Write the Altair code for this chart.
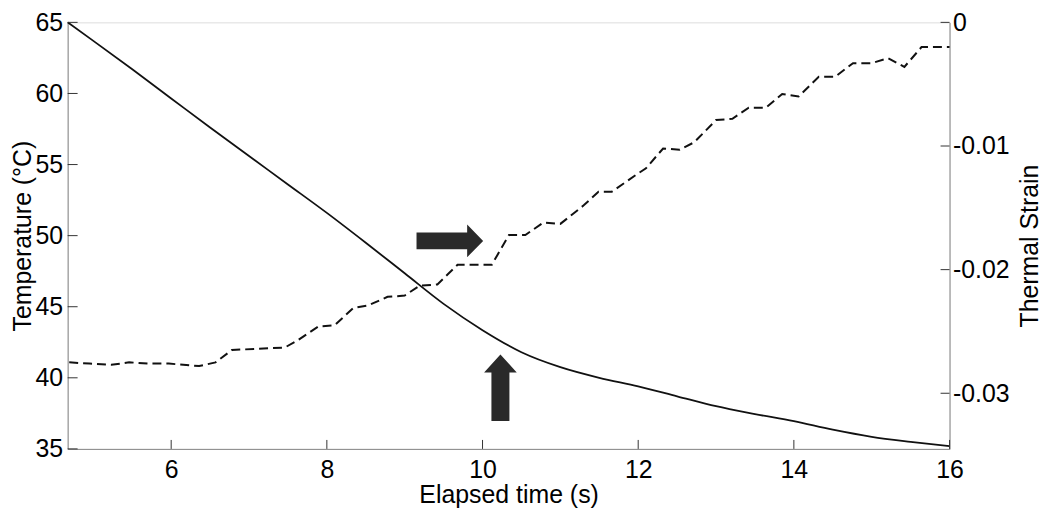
import altair as alt
import pandas as pd

# ---- data ----
time_temp = [4.67, 5.0, 5.5, 6.0, 6.5, 7.0, 7.5, 8.0, 8.5, 9.0, 9.5, 10.0,
             10.5, 11.0, 11.5, 12.0, 12.5, 13.0, 13.5, 14.0, 14.5, 15.0, 15.5, 16.0]
temperature = [65.0, 63.7, 61.7, 59.65, 57.6, 55.6, 53.6, 51.6, 49.5, 47.35, 45.2, 43.35,
               41.8, 40.75, 40.0, 39.4, 38.7, 38.0, 37.45, 36.95, 36.35, 35.85, 35.5, 35.2]

time_strain = [4.69, 4.95, 5.23, 5.46, 5.72, 5.97, 6.36, 6.57, 6.78, 7.12,
               7.46, 7.63, 7.89, 8.10, 8.34, 8.53, 8.78, 9.00, 9.19, 9.42,
               9.68, 10.12, 10.34, 10.55, 10.78, 11.00, 11.30, 11.49, 11.66, 11.98,
               12.10, 12.32, 12.53, 12.72, 13.00, 13.21, 13.42, 13.64, 13.85, 14.06,
               14.32, 14.53, 14.76, 15.00, 15.21, 15.42, 15.64, 16.0]
thermal_strain = [-0.0275, -0.0276, -0.0277, -0.0275, -0.0276, -0.0276, -0.0278, -0.0275, -0.0265, -0.0264,
                  -0.0263, -0.0257, -0.0246, -0.0245, -0.0231, -0.0229, -0.0222, -0.0221, -0.0213, -0.0212,
                  -0.0196, -0.0196, -0.0172, -0.0172, -0.0162, -0.0163, -0.0148, -0.0137, -0.0137, -0.0123,
                  -0.0118, -0.0102, -0.0103, -0.0097, -0.0079, -0.0078, -0.0069, -0.0069, -0.0058, -0.0060,
                  -0.0044, -0.0044, -0.0033, -0.0033, -0.0029, -0.0036, -0.0020, -0.0020]

x_ticks = [6, 8, 10, 12, 14, 16]
temp_ticks = [35, 40, 45, 50, 55, 60, 65]
strain_ticks = [0, -0.01, -0.02, -0.03]

arrow_right_t = [9.58]
arrow_right_temp = [49.63]
arrow_up_t = [10.23]
arrow_up_temp = [39.3]

x_domain = [4.67, 16]
temp_domain = [35, 65]
strain_domain = [-0.0345, 0]

# ---- styling ----
W, H = 887, 429
FONT = "Liberation Sans"
FS = 25
AXIS_COLOR = "#333333"
INK = "#111111"

df_temp = pd.DataFrame({"t": time_temp, "v": temperature})
df_strain = pd.DataFrame({"t": time_strain, "v": thermal_strain})
df_xt = pd.DataFrame({"t": x_ticks})
df_lt = pd.DataFrame({"v": temp_ticks})
df_rt = pd.DataFrame({"v": strain_ticks})
df_ar = pd.DataFrame({"t": arrow_right_t, "v": arrow_right_temp})
df_au = pd.DataFrame({"t": arrow_up_t, "v": arrow_up_temp})

x_scale = alt.Scale(domain=x_domain, nice=False, zero=False)
temp_scale = alt.Scale(domain=temp_domain, nice=False, zero=False)
strain_scale = alt.Scale(domain=strain_domain, nice=False, zero=False)

x_axis = alt.Axis(values=x_ticks, ticks=False, grid=False, labelFlush=False,
                  labelOverlap=False, labelPadding=9, labelFontSize=FS,
                  title="Elapsed time (s)", titleFontSize=FS, titleFontWeight="normal",
                  titlePadding=0)
x_enc = alt.X("t:Q", scale=x_scale, axis=x_axis)

temp_line = alt.Chart(df_temp).mark_line(
    color=INK, strokeWidth=1.8, interpolate="monotone"
).encode(
    x=x_enc,
    y=alt.Y("v:Q", scale=temp_scale,
            axis=alt.Axis(values=temp_ticks, ticks=False, grid=False,
                          labelPadding=5, labelFontSize=FS,
                          title="Temperature (°C)", titleFontSize=FS,
                          titleFontWeight="normal",
                          titleAngle=270, titleX=-45, titleY=H / 2,
                          titleAlign="center", titleBaseline="middle")),
)

strain_line = alt.Chart(df_strain).mark_line(
    color=INK, strokeWidth=2, strokeDash=[9, 5]
).encode(
    x=x_enc,
    y=alt.Y("v:Q", scale=strain_scale,
            axis=alt.Axis(orient="right", values=strain_ticks, ticks=False, grid=False,
                          labelPadding=3, labelFontSize=FS,
                          labelExpr="datum.value == 0 ? '0' : '' + datum.value",
                          title="Thermal Strain", titleFontSize=FS,
                          titleFontWeight="normal",
                          titleAngle=270, titleX=80, titleY=H / 2 + 10,
                          titleAlign="center", titleBaseline="middle")),
)

x_tick_marks = alt.Chart(df_xt).mark_rule(color=AXIS_COLOR, strokeWidth=1).encode(
    x=x_enc, y=alt.value(H), y2=alt.value(H - 9)
)
left_tick_marks = alt.Chart(df_lt).mark_rule(color=AXIS_COLOR, strokeWidth=1).encode(
    y=alt.Y("v:Q", scale=temp_scale, axis=None), x=alt.value(0), x2=alt.value(10)
)
right_tick_marks = alt.Chart(df_rt).mark_rule(color=AXIS_COLOR, strokeWidth=1).encode(
    y=alt.Y("v:Q", scale=strain_scale, axis=None), x=alt.value(W - 9), x2=alt.value(W)
)

right_arrow_shape = "M-1,-0.25 L0.52,-0.25 L0.52,-0.49 L1,0 L0.52,0.49 L0.52,0.25 L-1,0.25 Z"
up_arrow_shape = "M-0.27,1 L-0.27,-0.46 L-0.49,-0.46 L0,-1 L0.49,-0.46 L0.27,-0.46 L0.27,1 Z"

arrow_right = alt.Chart(df_ar).mark_point(
    shape=right_arrow_shape, filled=True, size=4489, color="#2a2a2a", opacity=1
).encode(x=x_enc, y=alt.Y("v:Q", scale=temp_scale, axis=None))

arrow_up = alt.Chart(df_au).mark_point(
    shape=up_arrow_shape, filled=True, size=4489, color="#2a2a2a", opacity=1
).encode(x=x_enc, y=alt.Y("v:Q", scale=temp_scale, axis=None))

chart = alt.layer(
    temp_line, strain_line, x_tick_marks, left_tick_marks, right_tick_marks,
    arrow_right, arrow_up
).resolve_scale(y="independent").properties(
    width=W, height=H,
    autosize=alt.AutoSizeParams(type="none"),
    padding={"left": 60, "top": 13, "right": 93, "bottom": 60},
).configure_view(stroke=None).configure_axis(
    labelFont=FONT, titleFont=FONT, labelColor=INK, titleColor=INK,
    titleFontWeight="normal", domainColor=AXIS_COLOR, domainWidth=1,
).configure(background="white")

chart.save("out.html", embed_options={"renderer": "svg", "actions": False})
